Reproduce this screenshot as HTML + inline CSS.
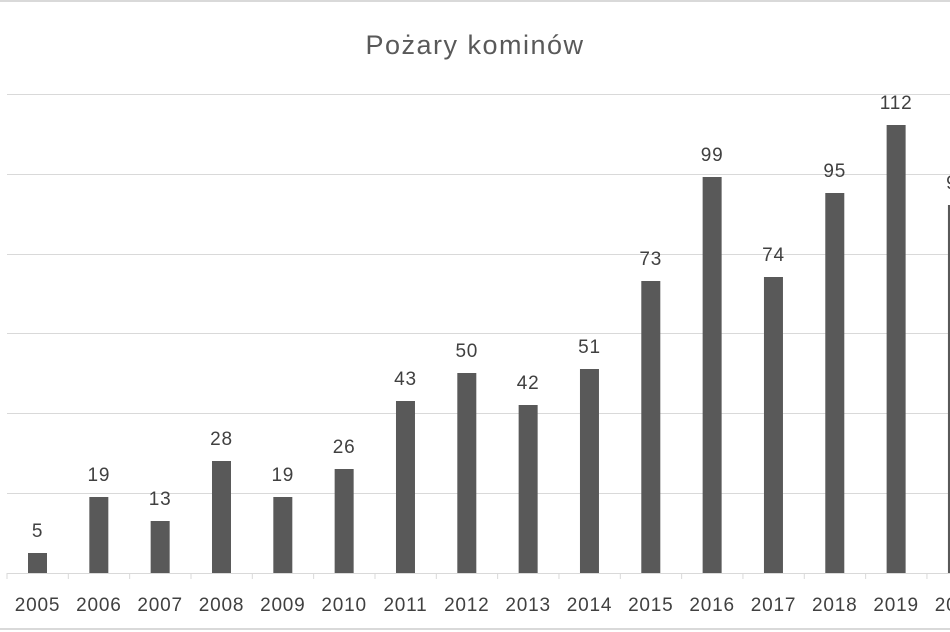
<!DOCTYPE html>
<html><head><style>
body{margin:0;background:#fff;}
svg{display:block;font-family:"Liberation Sans",sans-serif;}
</style></head><body>
<svg width="950" height="632" viewBox="0 0 950 632" xmlns="http://www.w3.org/2000/svg">
<rect x="0" y="0" width="950" height="632" fill="#fff"/>
<line x1="0" y1="1" x2="950" y2="1" stroke="#d9d9d9" stroke-width="2"/>
<line x1="0" y1="629" x2="950" y2="629" stroke="#d9d9d9" stroke-width="2"/>
<text x="475" y="54" text-anchor="middle" font-size="27" letter-spacing="1.5" fill="#595959">Pożary kominów</text>
<g stroke="#d9d9d9" stroke-width="1">
<line x1="7" y1="94.5" x2="950" y2="94.5"/>
<line x1="7" y1="174.5" x2="950" y2="174.5"/>
<line x1="7" y1="254.5" x2="950" y2="254.5"/>
<line x1="7" y1="333.5" x2="950" y2="333.5"/>
<line x1="7" y1="413.5" x2="950" y2="413.5"/>
<line x1="7" y1="493.5" x2="950" y2="493.5"/>
<line x1="7" y1="573.5" x2="950" y2="573.5"/>
</g>
<g id="chart"></g>
</svg>
<script>
var vals=[5,19,13,28,19,26,43,50,42,51,73,99,74,95,112,92];
var g=document.getElementById('chart'),s='';
for(var i=0;i<vals.length;i++){
 var cx=37.5+i*61.33, h=vals[i]*4, y=573-h;
 s+='<rect x="'+(cx-9.5)+'" y="'+y+'" width="19" height="'+h+'" fill="#595959"/>';
 s+='<text x="'+cx+'" y="'+(y-16)+'" text-anchor="middle" font-size="19" letter-spacing="0.8" fill="#404040">'+vals[i]+'</text>';
 s+='<text x="'+cx+'" y="611" text-anchor="middle" font-size="19" letter-spacing="0.8" fill="#404040">'+(2005+i)+'</text>';
 var tx=7+i*61.33;
 s+='<line x1="'+tx+'" y1="573" x2="'+tx+'" y2="579" stroke="#d9d9d9"/>';
}
g.innerHTML=s;
</script>
</body></html>
